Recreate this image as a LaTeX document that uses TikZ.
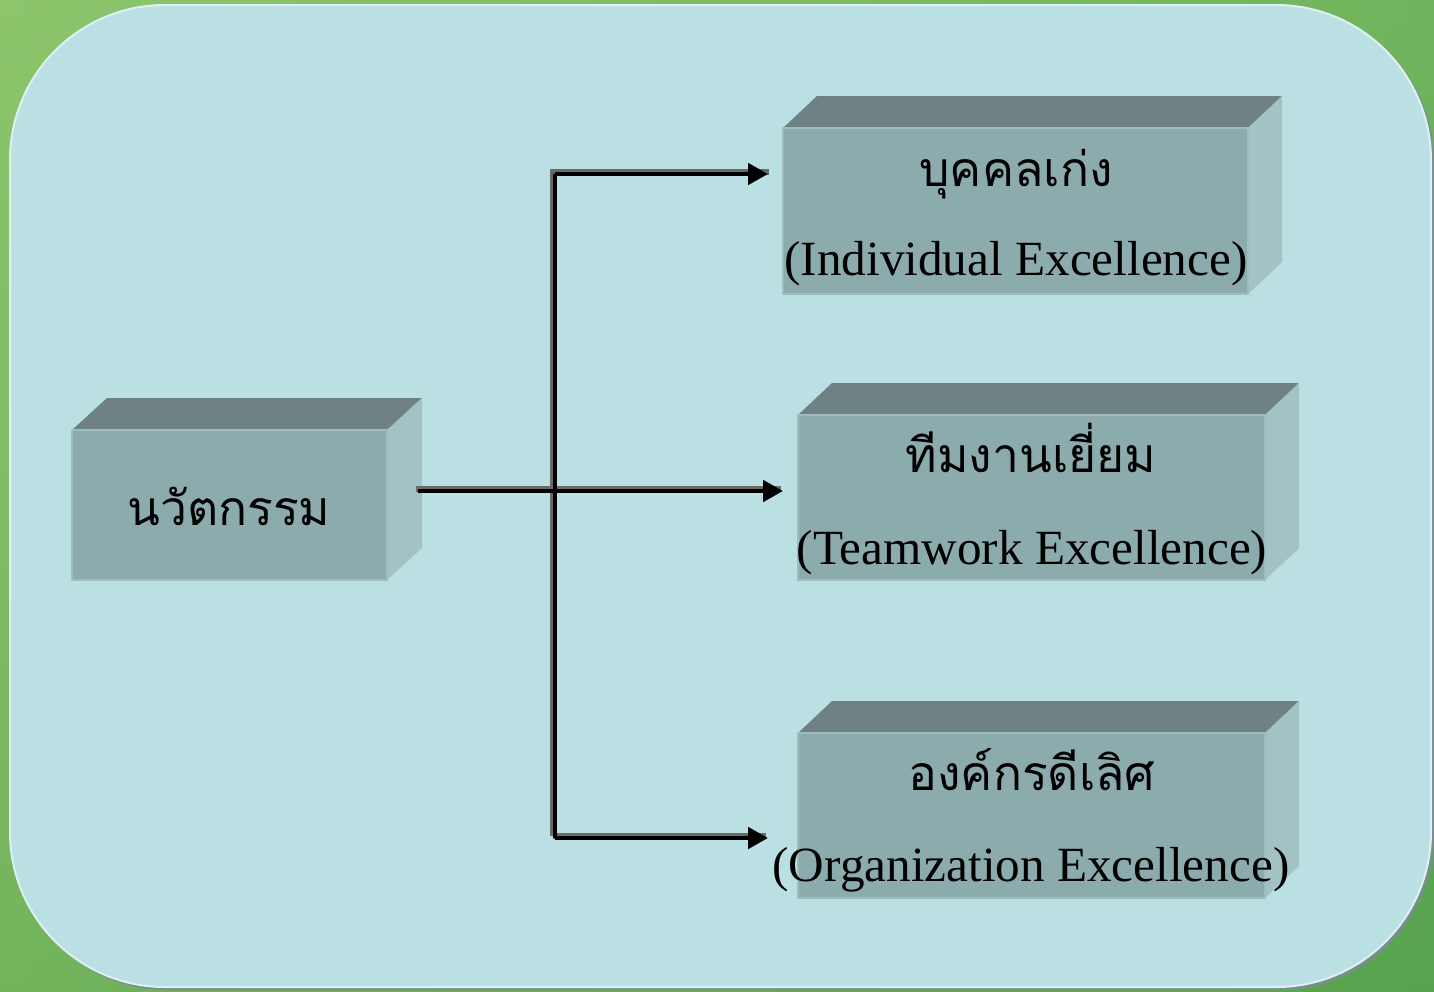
\documentclass[tikz,border=0pt]{standalone}
\usepackage{fontspec}
\setmainfont{Liberation Serif}
\newfontfamily\thaifont[Script=Thai]{Loma}
\usetikzlibrary{arrows.meta}
\definecolor{bgL}{HTML}{8CC56C}
\definecolor{bgR}{HTML}{5FAA55}
\definecolor{bgD}{HTML}{4E9A46}
\definecolor{panel}{HTML}{BBE0E3}
\definecolor{panelhi}{HTML}{DDF0F2}
\definecolor{panelsh}{HTML}{7A8E92}
\definecolor{frontc}{HTML}{8CABAD}
\definecolor{frontedge}{HTML}{9DBDBF}
\definecolor{topc}{HTML}{6E8283}
\definecolor{sidec}{HTML}{A3C2C4}
\definecolor{shadowline}{HTML}{6A6A6A}
\newcommand\mycuboid[6]{% name, x, y, w, h, dx
  \fill[topc] (#2,#3) -- ++(#6,-32) -- ++(#4,0) -- ++(-#6,32) -- cycle;
  \fill[sidec] (#2+#4,#3) -- ++(#6,-32) -- ++(0,#5) -- ++(-#6,32) -- cycle;
  \node[frontface, anchor=north west, minimum width=#4*0.5pt, minimum height=#5*0.5pt] (#1) at (#2,#3) {};
}
\begin{document}
\begin{tikzpicture}[x=0.5pt,y=-0.5pt,
  frontface/.style={rectangle, fill=frontc, draw=frontedge, line width=0.6pt, inner sep=0pt, outer sep=0pt},
  thai/.style={font=\thaifont\fontsize{24}{28}\selectfont, inner sep=0pt, anchor=base},
  eng/.style={font=\fontsize{24.6}{28}\selectfont, inner sep=0pt, anchor=base},
  shadowlink/.style={draw=shadowline, line width=2.8pt},
  link/.style={draw=black, line width=2.4pt},
  tip/.style={-{Triangle[length=10pt,width=10.5pt]}}
]
\useasboundingbox (0,0) rectangle (1434,991);
\shade[top color=bgL, bottom color=bgD] (0,0) rectangle (1434,991);
\shade[left color=bgL, right color=bgR, opacity=0.6] (0,0) rectangle (1434,991);
% panel
\fill[panelsh] (12,7) [rounded corners=77.5pt] rectangle (1434,990);
\draw[panelhi, fill=panel, line width=1pt, rounded corners=77.5pt] (10,5) rectangle (1431,987);
% boxes
\mycuboid{inno}{72}{430}{315}{150}{35}
\mycuboid{indiv}{783}{128}{465}{166}{34}
\mycuboid{team}{798}{415}{467}{165}{34}
\mycuboid{org}{798}{733}{467}{165}{34}
% texts
\node[thai] (t1) at (229,525) {นวัตกรรม};
\node[thai] (t2) at (1016,186) {บุคคลเก่ง};
\node[eng] (e2) at (1016,275) {(Individual Excellence)};
\node[thai] (t3) at (1031,472) {ทีมงานเยี่ยม};
\node[eng] (e3) at (1032,564) {(Teamwork Excellence)};
\node[thai] (t4) at (1032,790) {องค์กรดีเลิศ};
\node[eng] (e4) at (1031,881) {(Organization Excellence)};
% connectors
\coordinate (start) at (418,491);
\coordinate (jtop) at (555,174);
\coordinate (jbot) at (555,838);
\coordinate (atop) at (768,174);
\coordinate (amid) at (783,491);
\coordinate (abot) at (768,838);
\begin{scope}[transform canvas={shift={(-0.9pt,0.9pt)}}]
\path[shadowlink] (jtop) -- (jbot);
\path[shadowlink, line cap=rect] (jtop) -- (atop);
\path[shadowlink] (start) -- (amid);
\path[shadowlink] (jbot) -- (abot);
\end{scope}
\path[link] (jtop) -- (jbot);
\path[link, tip] (jtop) -- (atop);
\path[link, tip] (start) -- (amid);
\path[link, tip] (jbot) -- (abot);
\end{tikzpicture}
\end{document}
